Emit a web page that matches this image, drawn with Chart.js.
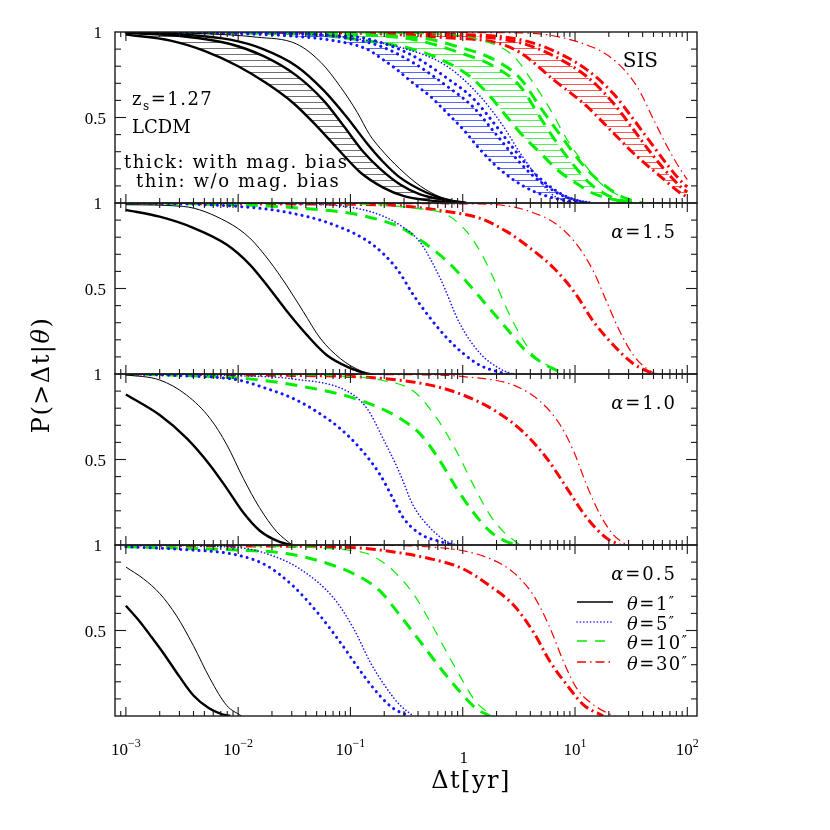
<!DOCTYPE html>
<html>
<head>
<meta charset="utf-8">
<script src="https://cdn.jsdelivr.net/npm/chart.js@4.4.0/dist/chart.umd.min.js"></script>
<style>
  html, body { margin: 0; padding: 0; background: #fff; }
  #c { display: block; }
</style>
</head>
<body>
<canvas id="c" width="830" height="830"></canvas>
<script>
// x range of the plot (Delta t in years) and the panels, top to bottom
const XMIN = 0.0008, XMAX = 122;
const thetas = [1, 5, 10, 30];
const thetaLabels = ['1', '5', '10', '30'];
const panelAxes = ['y1', 'y2', 'y3', 'y4'];
const panelTags = ['', '1.5', '1.0', '0.5'];
const xTickExps = [-3, -2, -1, 0, 1, 2];

// --- SIS panel: thick lower / middle / upper (band between lower and middle), thin ---
const sis1Lo = [[0.001,0.985],[0.0025,0.95],[0.005,0.89],[0.01,0.80],[0.0179,0.70],[0.0309,0.585],[0.0501,0.45],[0.0813,0.30],[0.122,0.18],[0.196,0.09],[0.3,0.04],[0.5,0.015],[0.9,0]];
const sis1Mid = [[0.001,0.995],[0.0032,0.975],[0.0085,0.93],[0.0167,0.86],[0.0331,0.745],[0.0575,0.60],[0.0871,0.45],[0.13,0.30],[0.184,0.2],[0.275,0.11],[0.417,0.05],[0.724,0.015],[1.07,0]];
const sis1Hi = [[0.001,0.998],[0.0032,0.985],[0.0085,0.955],[0.0167,0.90],[0.0331,0.80],[0.0575,0.66],[0.0933,0.50],[0.14,0.35],[0.196,0.24],[0.275,0.15],[0.479,0.06],[0.724,0.02],[1.07,0]];
const sis1Thin = [[0.001,1],[0.005,0.99],[0.0145,0.97],[0.0331,0.93],[0.055,0.82],[0.0813,0.68],[0.115,0.53],[0.148,0.40],[0.184,0.32],[0.275,0.2],[0.417,0.1],[0.631,0.035],[1.0,0]];

const sis5Lo = [[0.001,1],[0.01,0.99],[0.0316,0.975],[0.0708,0.95],[0.14,0.9],[0.184,0.85],[0.259,0.78],[0.363,0.70],[0.513,0.624],[0.724,0.527],[1.01,0.43],[1.43,0.312],[2.0,0.214],[2.82,0.136],[3.98,0.078],[5.62,0.04],[8.91,0.01],[12.6,0]];
const sis5Mid = [[0.001,1],[0.03,0.995],[0.1,0.96],[0.184,0.917],[0.363,0.82],[0.724,0.683],[1.245,0.56],[1.88,0.42],[2.82,0.28],[3.98,0.175],[5.62,0.097],[7.94,0.04],[11.2,0.01],[14.1,0]];
const sis5Hi = [[0.001,1],[0.1,0.975],[0.184,0.94],[0.363,0.86],[0.724,0.73],[1.245,0.61],[1.88,0.47],[2.82,0.32],[3.98,0.20],[5.62,0.11],[7.94,0.045],[11.2,0.01],[14.1,0]];
const sis5Thin = [[0.001,1],[0.0316,0.99],[0.1,0.965],[0.316,0.9],[0.724,0.80],[1.43,0.624],[2.29,0.45],[3.24,0.293],[4.57,0.156],[6.03,0.058],[7.94,0.015],[10,0]];

const sis10Lo = [[0.001,1],[0.03,0.99],[0.184,0.937],[0.363,0.898],[0.589,0.85],[1.16,0.74],[1.75,0.624],[2.45,0.507],[3.47,0.39],[4.9,0.293],[7.08,0.19],[10,0.12],[14.1,0.06],[22,0.02],[32,0]];
const sis10Mid = [[0.001,1],[0.1,0.985],[0.363,0.956],[0.95,0.878],[1.88,0.80],[3.24,0.683],[4.9,0.50],[6.92,0.35],[9.77,0.22],[13.8,0.11],[19.5,0.045],[28,0.01],[35,0]];
const sis10Hi = [[0.001,1],[0.363,0.97],[0.95,0.91],[1.88,0.84],[3.24,0.73],[4.9,0.56],[7.94,0.37],[12.6,0.2],[20.4,0.08],[28.8,0.025],[40,0]];
const sis10Thin = [[0.001,1],[0.5,0.99],[1.5,0.95],[2.82,0.86],[4.27,0.70],[6.03,0.546],[8.51,0.37],[11.9,0.234],[16.8,0.117],[25.1,0.04],[33.1,0]];

const sis30Lo = [[0.001,1],[0.1,0.995],[0.724,0.966],[2.0,0.937],[3.24,0.88],[6.46,0.72],[12.7,0.566],[21.9,0.41],[35.5,0.273],[57.5,0.156],[87,0.058],[100,0.035]];
const sis30Mid = [[0.001,1],[0.1,0.998],[1.0,0.98],[3.24,0.937],[6.46,0.86],[12.7,0.74],[21.9,0.585],[33.1,0.43],[50.1,0.273],[70.8,0.156],[93.3,0.078],[100,0.065]];
const sis30Hi = [[0.001,1],[1.0,0.985],[3.24,0.955],[6.46,0.89],[12.7,0.78],[21.9,0.64],[33.1,0.49],[50.1,0.33],[70.8,0.20],[93.3,0.11],[100,0.095]];
const sis30Thin = [[0.001,1],[3.24,0.995],[11.2,0.937],[21.9,0.84],[35.5,0.683],[50.1,0.488],[66.1,0.33],[87.1,0.195],[100,0.136]];

// --- alpha = 1.5 ---
const a15_1_thick = [[0.001,0.96],[0.002,0.92],[0.00398,0.855],[0.00794,0.756],[0.0127,0.64],[0.019,0.50],[0.0288,0.346],[0.0407,0.23],[0.0617,0.11],[0.1,0.034],[0.14,0]];
const a15_1_thin = [[0.001,0.99],[0.00324,0.98],[0.00794,0.89],[0.0127,0.795],[0.019,0.66],[0.0269,0.52],[0.038,0.365],[0.0537,0.21],[0.0813,0.09],[0.122,0.02],[0.158,0]];
const a15_5_thick = [[0.001,1],[0.003,0.995],[0.01,0.98],[0.0251,0.95],[0.0708,0.873],[0.158,0.756],[0.259,0.615],[0.363,0.463],[0.513,0.327],[0.724,0.21],[1.01,0.12],[1.43,0.05],[2.15,0.01],[2.51,0]];
const a15_5_thin = [[0.001,1],[0.03,0.995],[0.1,0.975],[0.184,0.93],[0.277,0.87],[0.417,0.77],[0.63,0.56],[0.95,0.29],[1.43,0.12],[2.15,0.03],[2.8,0]];
const a15_10_thick = [[0.001,1],[0.01,0.99],[0.0355,0.97],[0.1,0.94],[0.184,0.90],[0.275,0.86],[0.447,0.77],[0.724,0.66],[1.08,0.54],[1.62,0.405],[2.45,0.268],[3.47,0.15],[5.25,0.06],[6.92,0.02],[7.94,0]];
const a15_10_thin = [[0.001,1],[0.1,0.995],[0.363,0.97],[0.724,0.93],[1.08,0.834],[1.43,0.717],[1.88,0.56],[2.45,0.385],[3.24,0.23],[4.27,0.11],[6.03,0.04],[7.08,0]];
const a15_30_thick = [[0.001,1],[0.01,0.995],[0.184,0.99],[0.724,0.95],[1.43,0.91],[2.45,0.834],[3.98,0.736],[6.46,0.62],[9.77,0.483],[14.6,0.307],[21.9,0.17],[33.1,0.06],[46.8,0.01],[52.5,0]];
const a15_30_thin = [[0.001,1],[1.0,0.995],[2.0,0.99],[3.98,0.95],[6.92,0.873],[10.4,0.756],[14.6,0.6],[19.1,0.424],[25.1,0.248],[33.1,0.11],[43.7,0.03],[52.5,0]];

// --- alpha = 1.0 ---
const a10_1_thick = [[0.001,0.88],[0.002,0.76],[0.00347,0.625],[0.00562,0.467],[0.00794,0.33],[0.0111,0.19],[0.0155,0.085],[0.0234,0.018],[0.0302,0]];
const a10_1_thin = [[0.001,0.995],[0.002,0.965],[0.00347,0.877],[0.00562,0.74],[0.00794,0.585],[0.0111,0.39],[0.0155,0.218],[0.0219,0.08],[0.0302,0]];
const a10_5_thick = [[0.001,1],[0.003,0.99],[0.01,0.965],[0.0179,0.915],[0.0309,0.857],[0.0501,0.78],[0.0813,0.68],[0.122,0.565],[0.184,0.41],[0.24,0.27],[0.295,0.16],[0.417,0.065],[0.631,0.02],[0.82,0]];
const a10_5_thin = [[0.001,1],[0.01,0.99],[0.0316,0.97],[0.0933,0.9],[0.14,0.8],[0.196,0.62],[0.275,0.42],[0.363,0.23],[0.513,0.1],[0.724,0.02],[0.89,0]];
const a10_10_thick = [[0.001,1],[0.004,0.99],[0.0132,0.97],[0.0355,0.93],[0.1,0.865],[0.184,0.80],[0.277,0.74],[0.417,0.65],[0.589,0.52],[0.885,0.33],[1.245,0.19],[1.75,0.08],[2.45,0.02],[3.02,0]];
const a10_10_thin = [[0.001,1],[0.03,0.995],[0.1,0.985],[0.184,0.965],[0.363,0.9],[0.589,0.74],[0.885,0.545],[1.245,0.35],[1.75,0.175],[2.29,0.08],[3.24,0]];
const a10_30_thick = [[0.001,1],[0.01,0.995],[0.1,0.985],[0.184,0.975],[0.513,0.935],[1.01,0.877],[2.0,0.78],[3.47,0.66],[5.62,0.506],[8.51,0.33],[12.7,0.16],[19.1,0.04],[25.1,0]];
const a10_30_thin = [[0.001,1],[0.5,0.995],[1.01,0.985],[2.82,0.935],[4.9,0.84],[7.41,0.70],[9.77,0.545],[12.7,0.35],[16.8,0.175],[21.9,0.06],[28.8,0]];

// --- alpha = 0.5 ---
const a05_1_thick = [[0.001,0.645],[0.0013,0.56],[0.0017,0.46],[0.0022,0.36],[0.003,0.23],[0.004,0.12],[0.0055,0.045],[0.0072,0.01],[0.0085,0]];
const a05_1_thin = [[0.001,0.871],[0.00143,0.803],[0.00201,0.715],[0.00283,0.585],[0.00398,0.413],[0.00562,0.218],[0.0079,0.062],[0.0107,0]];
const a05_5_thick = [[0.001,0.99],[0.003,0.975],[0.01,0.94],[0.0179,0.88],[0.0309,0.76],[0.0501,0.61],[0.0813,0.43],[0.13,0.24],[0.182,0.12],[0.24,0.045],[0.339,0]];
const a05_5_thin = [[0.001,1],[0.01,0.985],[0.0178,0.95],[0.0355,0.86],[0.0708,0.69],[0.107,0.51],[0.15,0.315],[0.211,0.16],[0.275,0.065],[0.363,0]];
const a05_10_thick = [[0.001,0.99],[0.01,0.97],[0.0269,0.95],[0.0708,0.88],[0.14,0.79],[0.184,0.73],[0.275,0.59],[0.447,0.41],[0.676,0.256],[0.95,0.14],[1.34,0.04],[1.75,0]];
const a05_10_thin = [[0.001,1],[0.03,0.99],[0.0631,0.98],[0.14,0.95],[0.184,0.91],[0.24,0.85],[0.363,0.715],[0.513,0.55],[0.724,0.37],[1.01,0.20],[1.32,0.08],[1.86,0]];
const a05_30_thick = [[0.001,1],[0.01,0.995],[0.1,0.985],[0.184,0.97],[0.513,0.92],[1.01,0.86],[1.75,0.76],[2.82,0.65],[4.27,0.49],[6.03,0.315],[8.51,0.18],[11.9,0.065],[17.8,0]];
const a05_30_thin = [[0.001,1],[0.1,1],[0.724,0.98],[1.75,0.92],[2.82,0.84],[4.27,0.705],[6.03,0.51],[7.94,0.315],[10.4,0.16],[14.6,0.065],[21.9,0]];

const sisCurves = {
  1: [sis1Lo, sis1Mid, sis1Hi, sis1Thin],
  5: [sis5Lo, sis5Mid, sis5Hi, sis5Thin],
  10: [sis10Lo, sis10Mid, sis10Hi, sis10Thin],
  30: [sis30Lo, sis30Mid, sis30Hi, sis30Thin]
};
const alphaCurves = {
  y2: { 1: [a15_1_thick, a15_1_thin], 5: [a15_5_thick, a15_5_thin], 10: [a15_10_thick, a15_10_thin], 30: [a15_30_thick, a15_30_thin] },
  y3: { 1: [a10_1_thick, a10_1_thin], 5: [a10_5_thick, a10_5_thin], 10: [a10_10_thick, a10_10_thin], 30: [a10_30_thick, a10_30_thin] },
  y4: { 1: [a05_1_thick, a05_1_thin], 5: [a05_5_thick, a05_5_thin], 10: [a05_10_thick, a05_10_thin], 30: [a05_30_thick, a05_30_thin] }
};

// line styles per angle
const styles = {
  1:  { color: '#000000', hatch: '#707070', thick: { w: 2.4, dash: [] }, thin: { w: 1, dash: [] } },
  5:  { color: '#1414ff', hatch: '#5565ff', thick: { w: 3, dash: [0.1, 6], cap: 'round' }, thin: { w: 1.6, dash: [0.1, 3.3], cap: 'round' } },
  10: { color: '#00ee00', hatch: '#55f055', thick: { w: 3, dash: [12, 8] }, thin: { w: 1.2, dash: [10, 8] } },
  30: { color: '#ff0000', hatch: '#ff5555', thick: { w: 3, dash: [10, 4, 2, 4] }, thin: { w: 1.2, dash: [9, 4, 1.5, 4] } }
};

const canvas = document.getElementById('c');
const ctx = canvas.getContext('2d');

function hatch(color) {
  const c = document.createElement('canvas');
  c.width = 8; c.height = 6;
  const g = c.getContext('2d');
  g.fillStyle = color;
  g.fillRect(0, 0, 8, 1);
  return ctx.createPattern(c, 'repeat');
}

function mk(points, axis, theta, kind, extra) {
  const s = styles[theta][kind];
  return Object.assign({
    data: points.map(p => ({ x: p[0], y: p[1] })),
    yAxisID: axis,
    borderColor: styles[theta].color,
    borderWidth: s.w,
    borderDash: s.dash,
    borderCapStyle: s.cap || 'butt',
    pointRadius: 0,
    fill: false,
    cubicInterpolationMode: 'monotone'
  }, extra || {});
}

const datasets = [];
thetas.forEach(t => {
  const [lo, mid, hi, thin] = sisCurves[t];
  datasets.push(mk(lo, 'y1', t, 'thick'));
  datasets.push(mk(mid, 'y1', t, 'thick', { fill: '-1', backgroundColor: hatch(styles[t].hatch) }));
  datasets.push(mk(hi, 'y1', t, 'thick'));
  datasets.push(mk(thin, 'y1', t, 'thin'));
});
['y2', 'y3', 'y4'].forEach(ax => {
  thetas.forEach(t => {
    datasets.push(mk(alphaCurves[ax][t][0], ax, t, 'thick'));
    datasets.push(mk(alphaCurves[ax][t][1], ax, t, 'thin'));
  });
});

const SERIF = '"DejaVu Serif", "Liberation Serif", serif';
const TICKF = '"Liberation Serif", serif';

function seg(c, x1, y1, x2, y2) {
  c.beginPath(); c.moveTo(x1, y1); c.lineTo(x2, y2); c.stroke();
}

// draws a run of [text, font, dy] pieces starting at x (or ending at x when align = right)
function runs(c, parts, x, y, align, spacing) {
  c.letterSpacing = (spacing || 0) + 'px';
  c.textAlign = 'left';
  let w = 0;
  parts.forEach(p => { c.font = p[1]; w += c.measureText(p[0]).width; });
  let cx = align === 'right' ? x - w : (align === 'center' ? x - w / 2 : x);
  parts.forEach(p => {
    c.font = p[1];
    c.fillText(p[0], cx, y + (p[2] || 0));
    cx += c.measureText(p[0]).width;
  });
  c.letterSpacing = '0px';
}

const deco = {
  id: 'deco',
  afterDraw(chart) {
    const c = chart.ctx, xs = chart.scales.x;
    const L = xs.left, R = xs.right;
    c.save();
    c.strokeStyle = '#1a1a1a';
    c.fillStyle = '#000';
    c.textBaseline = 'alphabetic';
    panelAxes.forEach((id, i) => {
      const ys = chart.scales[id];
      const top = ys.getPixelForValue(1), bot = ys.getPixelForValue(0);
      c.lineWidth = 1.4;
      c.strokeRect(L, top, R - L, bot - top);
      c.lineWidth = 1.1;
      for (let e = -4; e <= 2; e++) {
        for (let m = 1; m <= 9; m++) {
          const v = m * Math.pow(10, e);
          if (v <= XMIN * 1.01 || v >= XMAX) continue;
          const px = xs.getPixelForValue(v);
          const len = m === 1 ? 9 : 5;
          seg(c, px, top, px, top + len);
          seg(c, px, bot, px, bot - len);
        }
      }
      for (let k = 1; k < 10; k++) {
        const py = ys.getPixelForValue(k / 10);
        const len = k === 5 ? 11 : 6;
        seg(c, L, py, L + len, py);
        seg(c, R, py, R - len, py);
      }
      c.font = '17px ' + TICKF;
      c.textAlign = 'right';
      c.fillText('1', 102, top + 6);
      c.fillText('0.5', 106, ys.getPixelForValue(0.5) + 6);
      if (i > 0) {
        runs(c, [['α', 'italic 18px ' + SERIF], ['=' + panelTags[i], '18px ' + SERIF]], 677, top + 35, 'right', 2);
      }
    });

    // x tick labels
    const bottom = chart.scales.y4.getPixelForValue(0);
    xTickExps.forEach(e => {
      const px = xs.getPixelForValue(Math.pow(10, e));
      if (e === 0) {
        runs(c, [['1', '17px ' + TICKF]], px + 1, bottom + 47, 'center');
      } else {
        const sup = e < 0 ? '\u2212' + (-e) : String(e);
        runs(c, [['10', '17px ' + TICKF], [sup, '12px ' + TICKF, -8]], px, bottom + 39, 'center');
      }
    });

    // axis titles
    runs(c, [['Δt[yr]', '24px ' + SERIF]], 471, 788, 'center', 1.5);
    c.save();
    c.translate(41, 375);
    c.rotate(-Math.PI / 2);
    runs(c, [['P(>Δt|', '24px ' + SERIF], ['θ', 'italic 24px ' + SERIF], [')', '24px ' + SERIF]], 0, 8, 'center', 1.5);
    c.restore();

    // SIS panel annotations
    runs(c, [['SIS', '20px ' + SERIF]], 658, 67, 'right');
    runs(c, [['z', '18px ' + SERIF], ['s', '12px ' + SERIF, 5], ['=1.27', '18px ' + SERIF]], 132, 105, 'left', 1.5);
    runs(c, [['LCDM', '18px ' + SERIF]], 132, 133, 'left');
    runs(c, [['thick: with mag. bias', '18px ' + SERIF]], 124, 168, 'left', 1.6);
    runs(c, [['thin: w/o mag. bias', '18px ' + SERIF]], 136, 187, 'left', 1.6);

    // legend in the bottom panel
    const rowY = [602, 622, 641, 662];
    thetas.forEach((t, k) => {
      const s = styles[t];
      c.save();
      c.strokeStyle = s.color;
      c.lineWidth = t === 5 ? 1.6 : 1.3;
      c.lineCap = s.thin.cap || 'butt';
      c.setLineDash(s.thin.dash);
      seg(c, 577, rowY[k], 613, rowY[k]);
      c.restore();
      runs(c, [['θ', 'italic 18px ' + SERIF], ['=' + thetaLabels[k], '18px ' + SERIF], ['″', '14px ' + SERIF, -3]], 627, rowY[k] + 8, 'left', 1.5);
    });
    c.restore();
  }
};

const yAxis = { type: 'linear', min: 0, max: 1, display: false, position: 'left', stack: 'panels', stackWeight: 1, offset: false };

new Chart(ctx, {
  type: 'line',
  data: { datasets: datasets },
  options: {
    responsive: false,
    animation: false,
    events: [],
    layout: { padding: { left: 115, right: 133, top: 32, bottom: 114 } },
    plugins: { legend: { display: false }, tooltip: { enabled: false } },
    scales: {
      x: { type: 'logarithmic', min: XMIN, max: XMAX, display: false },
      // last listed is stacked on top
      y4: Object.assign({}, yAxis),
      y3: Object.assign({}, yAxis),
      y2: Object.assign({}, yAxis),
      y1: Object.assign({}, yAxis)
    }
  },
  plugins: [deco]
});
</script>
</body>
</html>
